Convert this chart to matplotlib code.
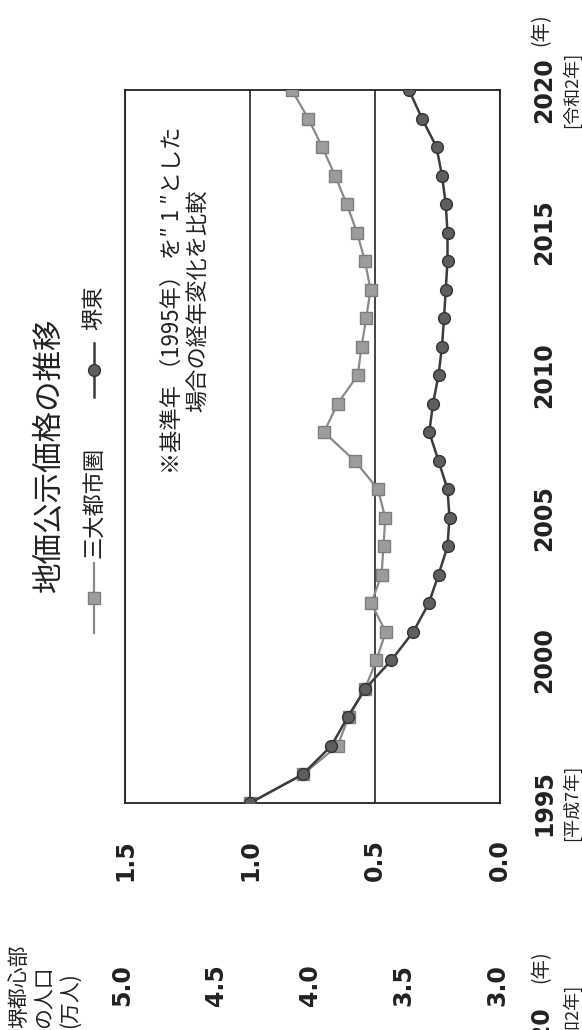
import numpy as np
import matplotlib
matplotlib.use("Agg")
import matplotlib.pyplot as plt
from matplotlib.lines import Line2D

plt.rcParams['font.family'] = ['Noto Sans CJK JP', 'DejaVu Sans']

# data (chart is printed rotated 90 degrees on the page)
years = list(range(1995, 2021))
sandai = [1.00, 0.789, 0.650, 0.606, 0.540, 0.495, 0.457, 0.515, 0.474, 0.466,
          0.459, 0.488, 0.581, 0.704, 0.650, 0.569, 0.554, 0.535, 0.518, 0.540,
          0.572, 0.613, 0.660, 0.711, 0.767, 0.833]
sakai = [1.00, 0.790, 0.675, 0.610, 0.540, 0.435, 0.347, 0.285, 0.246, 0.210,
         0.202, 0.210, 0.246, 0.283, 0.268, 0.246, 0.232, 0.224, 0.217, 0.210,
         0.210, 0.217, 0.232, 0.254, 0.312, 0.364]
value_ticks = [1.5, 1.0, 0.5, 0.0]
year_ticks = [1995, 2000, 2005, 2010, 2015, 2020]
year_labels = ['1995', '2000', '2005', '2010', '2015', '2020']
era_labels = {1995: '[平成7年]', 2020: '[令和2年]'}
pop_ticks = ['5.0', '4.5', '4.0', '3.5', '3.0']

W, H = 582, 1030
fig = plt.figure(figsize=(W / 100, H / 100), dpi=100)


def fx(px):
    return px / W


def fy(py):
    return 1 - py / H


left, right, top, bottom = 125, 500, 90, 803
ax = fig.add_axes([fx(left), fy(bottom), fx(right - left), (bottom - top) / H])

ax.plot(sandai, years, color='#8a8a8a', lw=1.6, marker='s', ms=8.5,
        mfc='#9c9c9c', mec='#7e7e7e', mew=1.0, zorder=3)
ax.plot(sakai, years, color='#3c3c3c', lw=1.8, marker='o', ms=8.5,
        mfc='#5e5e5e', mec='#333333', mew=1.0, zorder=4)

ax.set_xlim(1.5, 0.0)
ax.set_ylim(1995, 2020)
for s in ax.spines.values():
    s.set_color('#222222')
    s.set_linewidth(1.3)
ax.grid(axis='x', color='#222222', lw=1.2)
ax.set_axisbelow(True)

ax.set_xticks(value_ticks)
ax.set_xticklabels([f'{v:.1f}' for v in value_ticks], rotation=90,
                   fontsize=17, fontweight='bold', family='DejaVu Sans', color='#222222')
ax.tick_params(axis='x', length=0, pad=26)

ax.set_yticks(year_ticks)
ax.set_yticklabels(year_labels, rotation=90, va='center', fontsize=17,
                   fontweight='bold', family='DejaVu Sans', color='#222222')
ax.tick_params(axis='y', left=False, right=True, labelleft=False,
               labelright=True, length=0, pad=23)

ytr = ax.get_yaxis_transform()
for yr, lab in era_labels.items():
    ax.text(1.19, yr, lab, transform=ytr, rotation=90, ha='center', va='center',
            fontsize=13, color='#222222', clip_on=False)
ax.text(1.11, 2022.1, '(年)', transform=ytr, rotation=90, ha='center',
        va='center', fontsize=14, color='#222222', clip_on=False)

# note inside the plot
ax.text(0.16, 0.705, '※基準年 （1995年） を″ 1 ″とした\n場合の経年変化を比較',
        transform=ax.transAxes, rotation=90, ha='center', va='center',
        multialignment='center', fontsize=16, color='#222222', linespacing=1.1)

# title and legend
fig.text(fx(50), fy(455), '地価公示価格の推移', rotation=90, ha='center',
         va='center', fontsize=22, color='#222222')
fig.add_artist(Line2D([fx(94), fx(94)], [fy(633), fy(563)], color='#8a8a8a',
                      lw=1.6, transform=fig.transFigure))
fig.add_artist(Line2D([fx(94)], [fy(598)], marker='s', ms=8.5, mfc='#9c9c9c',
                      mec='#7e7e7e', transform=fig.transFigure))
fig.text(fx(94), fy(502), '三大都市圏', rotation=90, ha='center', va='center',
         fontsize=16, color='#222222')
fig.add_artist(Line2D([fx(94), fx(94)], [fy(397), fy(343)], color='#3c3c3c',
                      lw=1.8, transform=fig.transFigure))
fig.add_artist(Line2D([fx(94)], [fy(370)], marker='o', ms=8.5, mfc='#5e5e5e',
                      mec='#333333', transform=fig.transFigure))
fig.text(fx(94), fy(308), '堺東', rotation=90, ha='center', va='center',
         fontsize=16, color='#222222')

# neighbouring chart on the page (population), only its labels show
fig.text(fx(8), fy(1028), '堺都心部\nの人口\n(万人)', rotation=90, ha='left',
         va='bottom', multialignment='left', fontsize=15, color='#222222',
         linespacing=1.2)
for lab, px in zip(pop_ticks, np.linspace(left, right, len(pop_ticks))):
    fig.text(fx(px - 3), fy(985), lab, rotation=90, ha='center', va='center',
             fontsize=17, fontweight='bold', family='DejaVu Sans', color='#222222')
fig.text(fx(541), fy(1006), '2020', rotation=90, ha='center', va='top',
         fontsize=17, fontweight='bold', family='DejaVu Sans', color='#222222')
fig.text(fx(541), fy(950), '(年)', rotation=90, ha='center', va='top',
         fontsize=14, color='#222222')
fig.text(fx(571), fy(984), '[令和2年]', rotation=90, ha='center', va='top',
         fontsize=13, color='#222222')

fig.savefig('out.png', dpi=100, facecolor='white')
